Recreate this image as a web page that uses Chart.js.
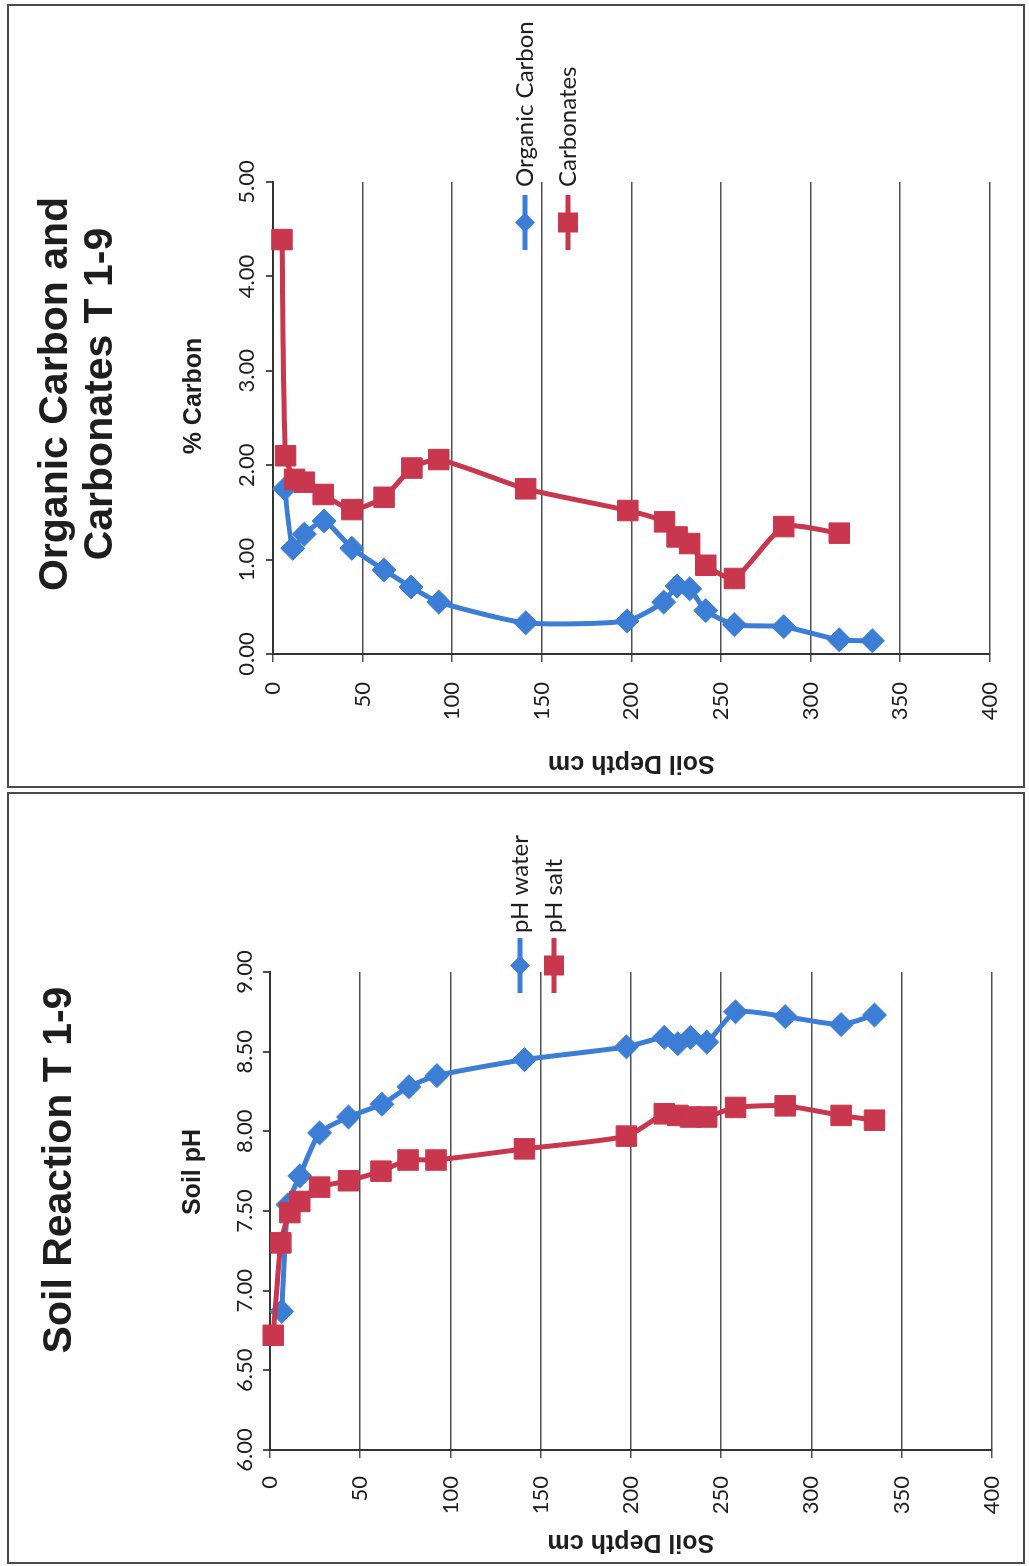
<!DOCTYPE html>
<html>
<head>
<meta charset="utf-8">
<title>Soil profile T 1-9</title>
<script src="https://cdn.jsdelivr.net/npm/chart.js@4.4.1/dist/chart.umd.min.js"></script>
<style>
  html, body { margin: 0; padding: 0; background: #fff; }
  #page { position: relative; width: 1029px; height: 1566px; overflow: hidden; background: #fff; }
  .panel { position: absolute; box-sizing: border-box; border: 2px solid #4a4a4a; }
  /* each chart is laid out upright, then turned a quarter to fit the page */
  .sheet { position: absolute; left: 0; top: 0; transform-origin: 0 0; }
  .sheet canvas { position: absolute; left: 0; top: 0; }
  .heading { position: absolute; left: 0; font: bold 41px/45px "Liberation Sans", Arial, sans-serif; text-align: center; color: #1e1e1e; }
  .valTitle { position: absolute; width: 300px; font: bold 25px/30px "Liberation Sans", Arial, sans-serif; text-align: center; color: #1e1e1e; }
</style>
</head>
<body>
<div id="page">
  <div class="panel" style="left:7px; top:4px; width:1018px; height:784px;">
    <div class="sheet" style="width:780px; height:1014px; transform:translateY(780px) rotate(-90deg);">
      <canvas id="carbonChart" width="780" height="1014"></canvas>
      <div class="heading" style="top:22px; width:784px;">Organic Carbon and<br>Carbonates T 1-9</div>
      <div class="valTitle" style="left:240px; top:168px;">% Carbon</div>
    </div>
  </div>
  <div class="panel" style="left:7px; top:792px; width:1018px; height:772px;">
    <div class="sheet" style="width:768px; height:1014px; transform:translateY(768px) rotate(-90deg);">
      <canvas id="phChart" width="768" height="1014"></canvas>
      <div class="heading" style="top:26px; width:784px;">Soil Reaction T 1-9</div>
      <div class="valTitle" style="left:240px; top:167px;">Soil pH</div>
    </div>
  </div>
</div>

<script>
// sample depths (cm) and measured values, one pair of arrays per series
const organicDepth  = [6.5, 11, 17.5, 28.5, 44, 62, 77, 92.5, 141, 197.5, 218, 225.5, 232.5, 241.5, 257.5, 285, 316, 334.5];
const organicCarbon = [1.75, 1.12, 1.27, 1.41, 1.12, 0.89, 0.71, 0.55, 0.33, 0.35, 0.55, 0.72, 0.69, 0.46, 0.31, 0.29, 0.15, 0.14];

const carbonateDepth = [5, 7, 12, 17.5, 28, 44, 62, 77.5, 92.5, 141, 198, 218.5, 225.5, 232.5, 241.5, 257.5, 285, 316];
const carbonates     = [4.39, 2.10, 1.85, 1.82, 1.69, 1.53, 1.66, 1.97, 2.06, 1.75, 1.52, 1.40, 1.24, 1.17, 0.94, 0.80, 1.35, 1.28];

const phWaterDepth = [6.5, 10, 16.5, 27.5, 43.5, 62, 77, 92.5, 141, 197.5, 218.5, 226, 233, 242, 258, 285.5, 316.5, 335];
const phWater      = [6.87, 7.54, 7.72, 7.99, 8.09, 8.17, 8.28, 8.35, 8.45, 8.53, 8.59, 8.55, 8.59, 8.56, 8.75, 8.72, 8.67, 8.73];

const phSaltDepth = [1.8, 6, 11, 16.5, 27.5, 43.5, 61.5, 76.5, 92, 141, 197.5, 218.5, 226, 233, 242, 258, 285.5, 316.5, 335];
const phSalt      = [6.72, 7.30, 7.49, 7.56, 7.65, 7.69, 7.75, 7.82, 7.82, 7.89, 7.97, 8.11, 8.10, 8.09, 8.09, 8.15, 8.16, 8.10, 8.07];

const BLUE = '#3c7dd6';
const RED = '#c9374f';
const GRID = '#505050';
const INK = '#1e1e1e';

function toPoints(depths, values) {
  return depths.map((d, i) => ({ x: values[i], y: d }));
}

function drawMarker(ctx, style, r, x, y) {
  ctx.beginPath();
  if (style === 'rectRot') {
    ctx.moveTo(x, y - r); ctx.lineTo(x + r, y); ctx.lineTo(x, y + r); ctx.lineTo(x - r, y);
  } else {
    ctx.rect(x - r, y - r, 2 * r, 2 * r);
  }
  ctx.closePath();
  ctx.fill();
}

// legend drawn over the plot, line sample + marker + label
const sideLegend = {
  id: 'sideLegend',
  afterDraw(chart, args, opts) {
    const ctx = chart.ctx;
    chart.data.datasets.forEach((ds, i) => {
      const y = opts.y + i * opts.step;
      ctx.save();
      ctx.strokeStyle = ds.borderColor;
      ctx.fillStyle = ds.backgroundColor;
      ctx.lineWidth = ds.borderWidth;
      ctx.beginPath();
      ctx.moveTo(opts.x, y);
      ctx.lineTo(opts.x + opts.len, y);
      ctx.stroke();
      drawMarker(ctx, ds.pointStyle, opts.marker[i], opts.x + opts.len / 2, y);
      ctx.fillStyle = INK;
      ctx.font = '24px Lato';
      ctx.textBaseline = 'middle';
      ctx.fillText(ds.label, opts.x + opts.len + opts.gap, y);
      ctx.restore();
    });
  }
};

function series(label, data, color, style, radius, order) {
  return {
    label, data, order,
    showLine: true, tension: 0.2, clip: false,
    borderColor: color, backgroundColor: color, borderWidth: 5,
    pointStyle: style, pointRadius: radius, pointHoverRadius: radius, pointBorderWidth: 1
  };
}

function profileChart(id, o) {
  return new Chart(document.getElementById(id), {
    type: 'scatter',
    data: {
      datasets: [
        series(o.labels[0], toPoints(o.depths[0], o.values[0]), BLUE, 'rectRot', 12, 1),
        series(o.labels[1], toPoints(o.depths[1], o.values[1]), RED, 'rect', 14.5, 0)
      ]
    },
    plugins: [sideLegend],
    options: {
      responsive: false,
      animation: false,
      devicePixelRatio: 1,
      layout: { padding: { left: 0, top: 0, right: o.padRight, bottom: o.padBottom } },
      plugins: {
        legend: { display: false },
        tooltip: { enabled: false },
        sideLegend: o.legend
      },
      scales: {
        x: {
          type: 'linear', position: 'top', min: o.min, max: o.max,
          ticks: { stepSize: o.step, padding: o.tickPad, color: INK, font: { family: 'Lato', size: 22 },
                   callback: v => v.toFixed(2) },
          grid: { drawOnChartArea: false, tickLength: 7, color: GRID, lineWidth: 2 },
          border: { color: '#333', width: 2 },
          afterFit: s => { s.height = o.axisTop; }
        },
        y: {
          type: 'linear', reverse: true, min: 0, max: 400,
          ticks: { stepSize: 50, padding: o.depthPad, color: INK, font: { family: 'Lato', size: 22 } },
          grid: { color: GRID, lineWidth: 1.5, tickLength: 8 },
          border: { color: '#333', width: 2 },
          title: { display: true, text: 'Soil Depth cm', color: INK,
                   font: { family: '"Liberation Sans", Arial', size: 25, weight: 'bold' },
                   padding: { top: o.titlePad, bottom: 0 } },
          afterFit: s => { s.width = o.axisLeft; }
        }
      }
    }
  });
}

profileChart('carbonChart', {
  labels: ['Organic Carbon', 'Carbonates'],
  depths: [organicDepth, carbonateDepth],
  values: [organicCarbon, carbonates],
  min: 0, max: 5, step: 1,
  axisTop: 264, axisLeft: 132, padRight: 176, padBottom: 22,
  tickPad: 6, depthPad: 20, titlePad: 8,
  legend: { x: 536, y: 516, step: 43, len: 55, gap: 8, marker: [10, 10] }
});

profileChart('phChart', {
  labels: ['pH water', 'pH salt'],
  depths: [phWaterDepth, phSaltDepth],
  values: [phWater, phSalt],
  min: 6, max: 9, step: 0.5,
  axisTop: 261, axisLeft: 112, padRight: 178, padBottom: 25,
  tickPad: 5, depthPad: 18, titlePad: 5,
  legend: { x: 569, y: 511, step: 34, len: 55, gap: 5, marker: [10, 10] }
});
</script>
</body>
</html>
